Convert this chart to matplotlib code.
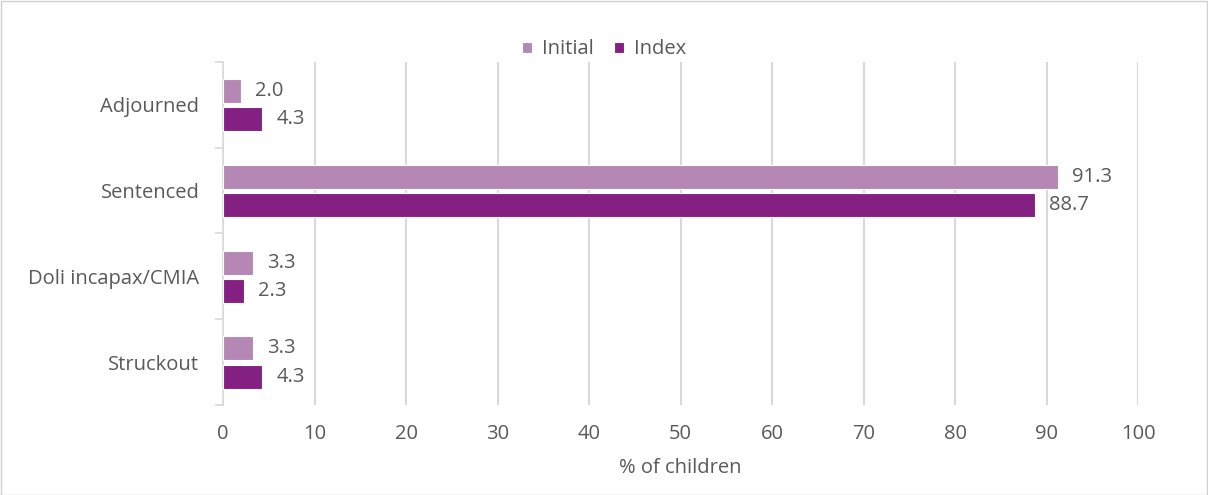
import numpy as np
import matplotlib.pyplot as plt
from matplotlib.patches import Rectangle

plt.rcParams['font.family'] = ['Open Sans', 'DejaVu Sans']

# data
categories = ['Adjourned', 'Sentenced', 'Doli incapax/CMIA', 'Struckout']
initial = [2.0, 91.3, 3.3, 3.3]
index = [4.3, 88.7, 2.3, 4.3]
xticks = [0, 10, 20, 30, 40, 50, 60, 70, 80, 90, 100]

c_init = '#b487b4'
c_index = '#842081'
txt = '#595959'
grid = '#d9d9d9'
fs = 14.5

fig = plt.figure(figsize=(12.08, 4.95), dpi=100)
ax = fig.add_axes([0.1846, 0.1818, 0.7575, 0.693])

y = np.arange(len(categories))
h = 0.28
b1 = ax.barh(y - 0.16, initial, height=h, color=c_init, edgecolor='white', linewidth=0.8, label='Initial', zorder=3)
b2 = ax.barh(y + 0.17, index, height=h, color=c_index, edgecolor='white', linewidth=0.8, label='Index', zorder=3)

for bars, vals in ((b1, initial), (b2, index)):
    for bar, v in zip(bars, vals):
        ax.annotate(f'{v:.1f}', (bar.get_width(), bar.get_y() + bar.get_height() / 2),
                    xytext=(10, 0), textcoords='offset points', va='center', ha='left',
                    fontsize=fs, color=txt)

ax.set_xlim(0, 100)
ax.set_ylim(3.5, -0.5)
ax.set_xticks(xticks)
ax.set_yticks(y)
ax.set_yticklabels(categories)
ax.set_yticks(np.arange(-0.5, 4, 1), minor=True)
ax.tick_params(axis='y', which='major', length=0, pad=17, labelsize=fs, labelcolor=txt)
ax.tick_params(axis='y', which='minor', length=6, color=grid, width=1.2)
ax.tick_params(axis='x', length=0, pad=14, labelsize=fs, labelcolor=txt)
ax.xaxis.grid(True, color=grid, linewidth=1.5, zorder=0)
ax.set_axisbelow(True)
for s in ('top', 'right', 'bottom'):
    ax.spines[s].set_visible(False)
ax.spines['left'].set_color(grid)
ax.spines['left'].set_linewidth(1.2)

ax.set_xlabel('% of children', fontsize=fs, color=txt, labelpad=10)

leg = fig.legend(handles=[b1, b2], loc='center', bbox_to_anchor=(0.5, 0.9), ncol=2,
                 frameon=False, fontsize=fs, handlelength=0.5, handleheight=0.5,
                 handletextpad=0.5, columnspacing=1.0, labelcolor=txt)

fig.patches.append(Rectangle((0.001, 0.001), 0.998, 0.997, transform=fig.transFigure,
                             fill=False, edgecolor='#d0d0d0', linewidth=1))

fig.savefig('out.png', dpi=100)
